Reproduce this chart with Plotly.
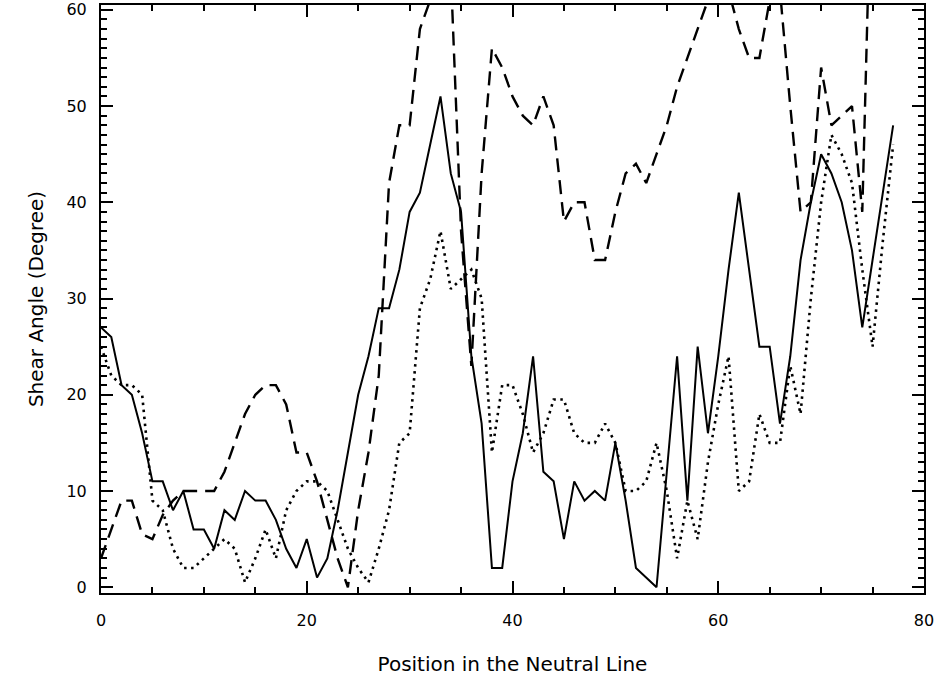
import plotly.graph_objects as go

# Position index along the neutral line
position = list(range(78))

# Solid curve
shear_solid = [27, 26, 21, 20, 16, 11, 11, 8, 10, 6,
               6, 4, 8, 7, 10, 9, 9, 7, 4, 2,
               5, 1, 3, 8, 14, 20, 24, 29, 29, 33,
               39, 41, 46, 51, 43, 39, 24, 17, 2, 2,
               11, 16, 24, 12, 11, 5, 11, 9, 10, 9,
               15, 9, 2, 1, 0, 12, 24, 9, 25, 16,
               24, 33, 41, 33, 25, 25, 17, 24, 34, 40,
               45, 43, 40, 35, 27, 34, 41, 48]

# Dashed curve (values above 60 run off the top of the frame)
shear_dashed = [3, 6, 9, 9, 5.5, 5, 7.5, 9, 10, 10,
                10, 10, 12, 15, 18, 20, 21, 21, 19, 14,
                14, 11, 7, 3, 0, 8, 14, 22, 42, 48,
                48, 58, 61, 65, 64, 37, 23, 43, 56, 54,
                51, 49, 48, 51, 48, 38, 40, 40, 34, 34,
                39, 43, 44, 42, 45, 48, 52, 55, 58, 61,
                63, 62, 58, 55, 55, 61, 62, 50, 39, 40,
                54, 48, 49, 50, 39, 80, 85, 82]

# Dotted curve
shear_dotted = [25, 22, 21, 21, 20, 9, 8, 4, 2, 2,
                3, 4, 5, 4, 0.5, 3, 6, 3, 8, 10,
                11, 11, 10, 7, 4, 2, 0.5, 4, 8, 15,
                16, 29, 32, 37, 31, 32, 33, 30, 14, 21,
                21, 18, 14, 16, 19.5, 19.5, 16, 15, 15, 17,
                15, 10, 10, 11, 15, 10, 3, 9, 5, 13,
                19, 24, 10, 11, 18, 15, 15, 23, 18, 30,
                40, 47, 45, 42, 33, 25, 36, 46]

x_ticks = [0, 20, 40, 60, 80]
y_ticks = [0, 10, 20, 30, 40, 50, 60]

fig = go.Figure()
fig.add_trace(go.Scatter(x=position, y=shear_dashed, mode="lines",
                         line=dict(color="black", width=2.4, dash="14px,8px"),
                         showlegend=False))
fig.add_trace(go.Scatter(x=position, y=shear_dotted, mode="lines",
                         line=dict(color="black", width=2.6, dash="2.5px,4.5px"),
                         showlegend=False))
fig.add_trace(go.Scatter(x=position, y=shear_solid, mode="lines",
                         line=dict(color="black", width=2),
                         showlegend=False))

tickfont = dict(family="DejaVu Sans", size=16, color="black")
titlefont = dict(family="DejaVu Sans", size=20, color="black")

fig.update_layout(
    width=939, height=678,
    margin=dict(l=101, r=15, t=5, b=85),
    paper_bgcolor="white", plot_bgcolor="white",
    xaxis=dict(
        range=[0, 80], tickvals=x_ticks, ticktext=[str(v) for v in x_ticks],
        ticks="inside", ticklen=12, tickwidth=2, tickcolor="black",
        minor=dict(dtick=5, ticks="inside", ticklen=6, tickwidth=1.5, tickcolor="black"),
        showline=True, linecolor="black", linewidth=2, mirror="ticks",
        showgrid=False, zeroline=False, tickfont=tickfont,
        ticklabelstandoff=12,
        title=dict(text="Position in the Neutral Line", font=titlefont, standoff=28),
        automargin=False,
    ),
    yaxis=dict(
        range=[-0.6, 60.5], tickvals=y_ticks, ticktext=[str(v) for v in y_ticks],
        ticks="inside", ticklen=12, tickwidth=2, tickcolor="black",
        minor=dict(dtick=1, ticks="inside", ticklen=6, tickwidth=1.5, tickcolor="black"),
        showline=True, linecolor="black", linewidth=2, mirror="ticks",
        showgrid=False, zeroline=False, tickfont=tickfont,
        ticklabelstandoff=9,
        title=dict(text="Shear Angle (Degree)", font=titlefont, standoff=17),
        automargin=False,
    ),
)

fig.write_html("out.html")
